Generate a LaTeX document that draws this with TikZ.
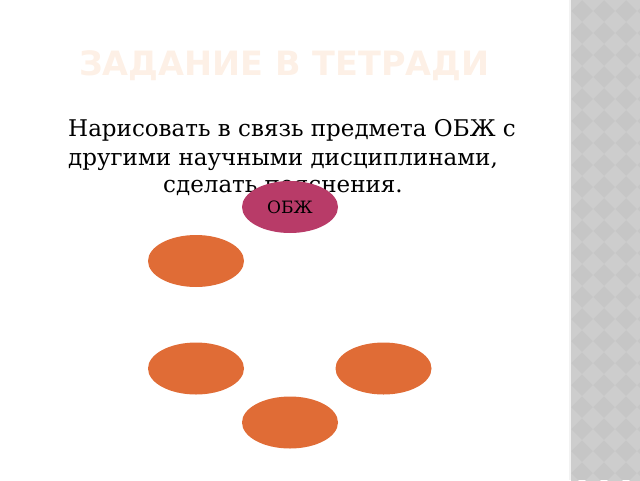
\documentclass[tikz,border=0pt]{standalone}
\usepackage{fontspec}
\setmainfont{DejaVu Serif}
\newfontfamily\titlefont{DejaVu Sans}
\usetikzlibrary{shapes.geometric}
\definecolor{peach}{HTML}{FDF0E6}
\definecolor{obzh}{HTML}{B83B68}
\definecolor{subj}{HTML}{E06C36}
\definecolor{bandgray}{HTML}{C6C6C6}
\definecolor{bandlight}{HTML}{CDCDCD}
\begin{document}
\begin{tikzpicture}[x=1pt, y=-1pt,
  blob/.style={ellipse, minimum width=96pt, minimum height=52pt, inner sep=0pt, fill=#1},
  line/.style={anchor=base, font=\fontsize{23}{28}\selectfont}]
\useasboundingbox (0,0) rectangle (640,480);
% band on the right
\fill[bandgray] (571,0) rectangle (640,480);
\begin{scope}
\clip (571,0) rectangle (640,480);
\foreach \i in {0,...,3}
  \foreach \j in {0,...,22}
    \fill[bandlight] (571+22*\i,22*\j-11) -- ++(11,11) -- ++(-11,11) -- ++(-11,-11) -- cycle;
\end{scope}
\fill[white!90!gray] (569,0) rectangle (571,480);
% title and task
\node[anchor=base west, inner sep=0pt, text=peach, font=\titlefont\bfseries\fontsize{33.5}{40}\selectfont] (title) at (79,75.5) {ЗАДАНИЕ В ТЕТРАДИ};
\node[line] (l1) at (292,136) {Нарисовать в связь предмета ОБЖ с};
\node[line] (l2) at (283,165) {другими научными дисциплинами,};
\node[line] (l3) at (283,192) {сделать пояснения.};
% subjects
\node[blob=obzh, font=\fontsize{17}{20}\selectfont] (1) at (290,207) {ОБЖ};
\node[blob=subj] (2) at (196,261) {};
\node[blob=subj] (3) at (196,368.5) {};
\node[blob=subj] (4) at (383.5,368.5) {};
\node[blob=subj] (5) at (290,422.5) {};
\end{tikzpicture}
\end{document}
